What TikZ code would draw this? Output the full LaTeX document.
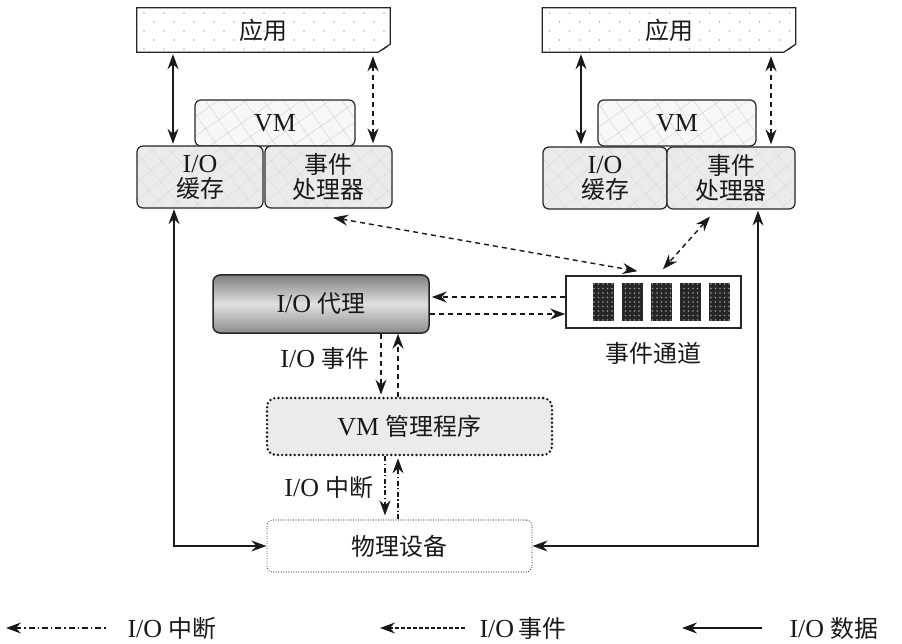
\documentclass[tikz,border=0pt]{standalone}
\usepackage{fontspec}
\setmainfont{Liberation Serif}
\newfontfamily\cjk[Scale=0.92]{Noto Sans CJK SC}
\usetikzlibrary{arrows.meta,patterns.meta,calc}

\tikzset{
  lbl/.style={font=\fontsize{26}{28}\selectfont, text=black!90, align=center},
  box/.style={lbl, rectangle, inner sep=0pt},
  appnode/.style={box, fill=white,
    path picture={
      \foreach \i in {0,...,13} \foreach \j in {0,...,4} {
        \fill[black!30] ([shift={({\i*20+10*mod(\j,2)+7},{\j*9+5})}]path picture bounding box.north west) circle (0.8pt);
      }}},
  appline/.style={draw=black!85, line width=1.2pt, line join=miter},
  vmnode/.style={box, draw=black!85, line width=1.2pt, rounded corners=6pt,
    preaction={fill=black!3}, pattern={Hatch[angle=35,distance=16pt,line width=0.4pt]}, pattern color=black!18},
  cellnode/.style={box, draw=black!85, line width=1.2pt, rounded corners=6pt,
    preaction={fill=black!8}, pattern={Hatch[angle=40,distance=14pt,line width=0.3pt]}, pattern color=black!16},
  twoline/.style={font=\fontsize{26}{25}\selectfont},
  proxynode/.style={box, draw=black!85, line width=1.5pt, rounded corners=7pt,
    top color=black!50, bottom color=black!45, middle color=black!12},
  monnode/.style={box, draw=black!90, line width=2.7pt, dash pattern=on 0pt off 4.2pt, line cap=round,
    rounded corners=9pt, fill=black!8},
  devnode/.style={box, draw=black!75, line width=1.2pt, dash pattern=on 0pt off 2.5pt, line cap=round,
    rounded corners=6pt, fill=white},
  channode/.style={box, draw=black!85, line width=1.6pt, fill=white},
  slotnode/.style={rectangle, inner sep=0pt, minimum width=21pt, minimum height=37pt, fill=black!85,
    postaction={pattern={Dots[distance=4.5pt,radius=0.85pt]}, pattern color=black!40}},
  >={Stealth[length=15pt,width=11pt,inset=5pt]},
  data/.style={draw=black!90, line width=1.2pt},
  event/.style={draw=black!90, line width=1.4pt, dash pattern=on 5pt off 4pt},
  irq/.style={draw=black!90, line width=1.4pt, dash pattern=on 5pt off 2.5pt on 1.3pt off 2.5pt},
  eventkey/.style={draw=black!90, line width=1.2pt, dash pattern=on 3.5pt off 2.5pt},
  irqkey/.style={draw=black!90, line width=1.2pt, dash pattern=on 6pt off 3pt on 1.3pt off 3pt},
}

\begin{document}
\begin{tikzpicture}[x=1pt,y=-1pt]
\fill[white] (0,0) rectangle (902,644);
\useasboundingbox (0,0) rectangle (902,644);

% ---------- left guest ----------
\node[appnode, minimum width=253pt, minimum height=44pt] (Lapp) at (263.5,30) {\cjk 应用};
\draw[appline] (Lapp.north west) -- (Lapp.north east) -- ([yshift=8pt]Lapp.south east)
  -- ([xshift=-12pt]Lapp.south east) -- (Lapp.south west) -- cycle;
\fill[black!85] ([yshift=8pt]Lapp.south east) -- ([xshift=-12pt]Lapp.south east)
  .. controls ([shift={(-4,-4)}]Lapp.south east) .. cycle;
\node[vmnode, minimum width=160pt, minimum height=46pt] (Lvm) at (275,123) {VM};
\node[cellnode, twoline, minimum width=126pt, minimum height=62pt] (Lbuf) at (200,177) {I/O\\{\cjk 缓存}};
\node[cellnode, twoline, minimum width=127pt, minimum height=62pt] (Levh) at (328.5,177) {{\cjk 事件}\\{\cjk 处理器}};

% ---------- right guest ----------
\node[appnode, minimum width=253pt, minimum height=44pt] (Rapp) at (669,30) {\cjk 应用};
\draw[appline] (Rapp.north west) -- (Rapp.north east) -- ([yshift=8pt]Rapp.south east)
  -- ([xshift=-12pt]Rapp.south east) -- (Rapp.south west) -- cycle;
\fill[black!85] ([yshift=8pt]Rapp.south east) -- ([xshift=-12pt]Rapp.south east)
  .. controls ([shift={(-4,-4)}]Rapp.south east) .. cycle;
\node[vmnode, minimum width=158pt, minimum height=46pt] (Rvm) at (677,123) {VM};
\node[cellnode, twoline, minimum width=124pt, minimum height=62pt] (Rbuf) at (605,178) {I/O\\{\cjk 缓存}};
\node[cellnode, twoline, minimum width=128pt, minimum height=62pt] (Revh) at (731,178) {{\cjk 事件}\\{\cjk 处理器}};

% ---------- host side ----------
\node[proxynode, minimum width=216pt, minimum height=58pt] (proxy) at (321,304) {I/O {\cjk 代理}};
\node[channode, minimum width=175pt, minimum height=52pt] (chan) at (653.5,302) {};
\foreach \k in {1,...,5}
  \node[slotnode] (slot\k) at ([xshift={-50pt+29pt*(\k-1)}]chan.center) {};
\node[lbl] (chanlbl) at (653.5,353) {\cjk 事件通道};
\node[monnode, minimum width=285pt, minimum height=57pt] (mon) at (409.5,426.5) {VM {\cjk 管理程序}};
\node[devnode, minimum width=265pt, minimum height=52pt] (dev) at (399.5,546) {\cjk 物理设备};

% ---------- connectors: guest app <-> buffers / handlers ----------
\coordinate (La) at ([xshift=-27pt]Lbuf.north);
\coordinate (Lb) at ([xshift=44.5pt]Levh.north);
\coordinate (Ra) at ([xshift=-24pt]Rbuf.north);
\coordinate (Rb) at ([xshift=40pt]Revh.north);
\draw[data,<->,shorten <=2pt,shorten >=2pt] (La |- Lapp.south) -- (La);
\draw[event,<->,shorten <=4pt,shorten >=2pt] (Lb |- Lapp.south) -- (Lb);
\draw[data,<->,shorten <=2pt,shorten >=2pt] (Ra |- Rapp.south) -- (Ra);
\draw[event,<->,shorten <=4pt,shorten >=2pt] (Rb |- Rapp.south) -- (Rb);

% ---------- event handlers <-> event channel ----------
\coordinate (Lh) at ([shift={(4.5,9)}]Levh.south);
\coordinate (Rh) at ([shift={(-21,7)}]Revh.south);
\coordinate (ch1) at ([shift={(-16,-4)}]chan.north);
\coordinate (ch2) at ([shift={(9.5,-6)}]chan.north);
\draw[event,<->] (Lh) -- (ch1);
\draw[event,<->] (Rh) -- (ch2);

% ---------- proxy <-> event channel ----------
\coordinate (cu) at ([yshift=5pt]chan.west);
\coordinate (cd) at ([yshift=-12pt]chan.west);
\draw[event,->,shorten >=2pt] (cu) -- (cu -| proxy.east);
\draw[event,->] (cd -| proxy.east) -- (cd);

% ---------- proxy <-> VM monitor ----------
\coordinate (pd) at ([xshift=60pt]proxy.south);
\coordinate (pu) at ([xshift=77pt]proxy.south);
\draw[event,->,shorten >=2pt] (pd) -- (pd |- mon.north);
\draw[event,->] (pu |- mon.north) -- (pu);
\node[lbl, anchor=east] (evlbl) at (373,358) {I/O {\cjk 事件}};

% ---------- VM monitor <-> device ----------
\coordinate (md) at ([xshift=-24.5pt]mon.south);
\coordinate (mu) at ([xshift=-11.5pt]mon.south);
\draw[irq,->,shorten >=4pt] (md) -- (md |- dev.north);
\draw[irq,->,shorten >=2pt] (mu |- dev.north) -- (mu);
\node[lbl, anchor=east] (irqlbl) at (377,487) {I/O {\cjk 中断}};

% ---------- data paths buffers <-> device ----------
\draw[data,<->,shorten <=1pt] ([xshift=-26pt]Lbuf.south) |- (dev.west);
\draw[data,<->,shorten <=1pt] ([xshift=27pt]Revh.south) |- (dev.east);

% ---------- legend ----------
\coordinate (k1a) at (6,628);   \coordinate (k1b) at (106,628);
\coordinate (k2a) at (380,628); \coordinate (k2b) at (466,628);
\coordinate (k3a) at (682,628); \coordinate (k3b) at (762,628);
\draw[irqkey,<-] (k1a) -- (k1b);
\draw[eventkey,<-] (k2a) -- (k2b);
\draw[data,<-] (k3a) -- (k3b);
\node[lbl, anchor=west] (k1t) at (124,628) {I/O {\cjk 中断}};
\node[lbl, anchor=west] (k2t) at (476,628) {I/O\,{\cjk 事件}};
\node[lbl, anchor=west] (k3t) at (786,628) {I/O {\cjk 数据}};
\end{tikzpicture}
\end{document}
